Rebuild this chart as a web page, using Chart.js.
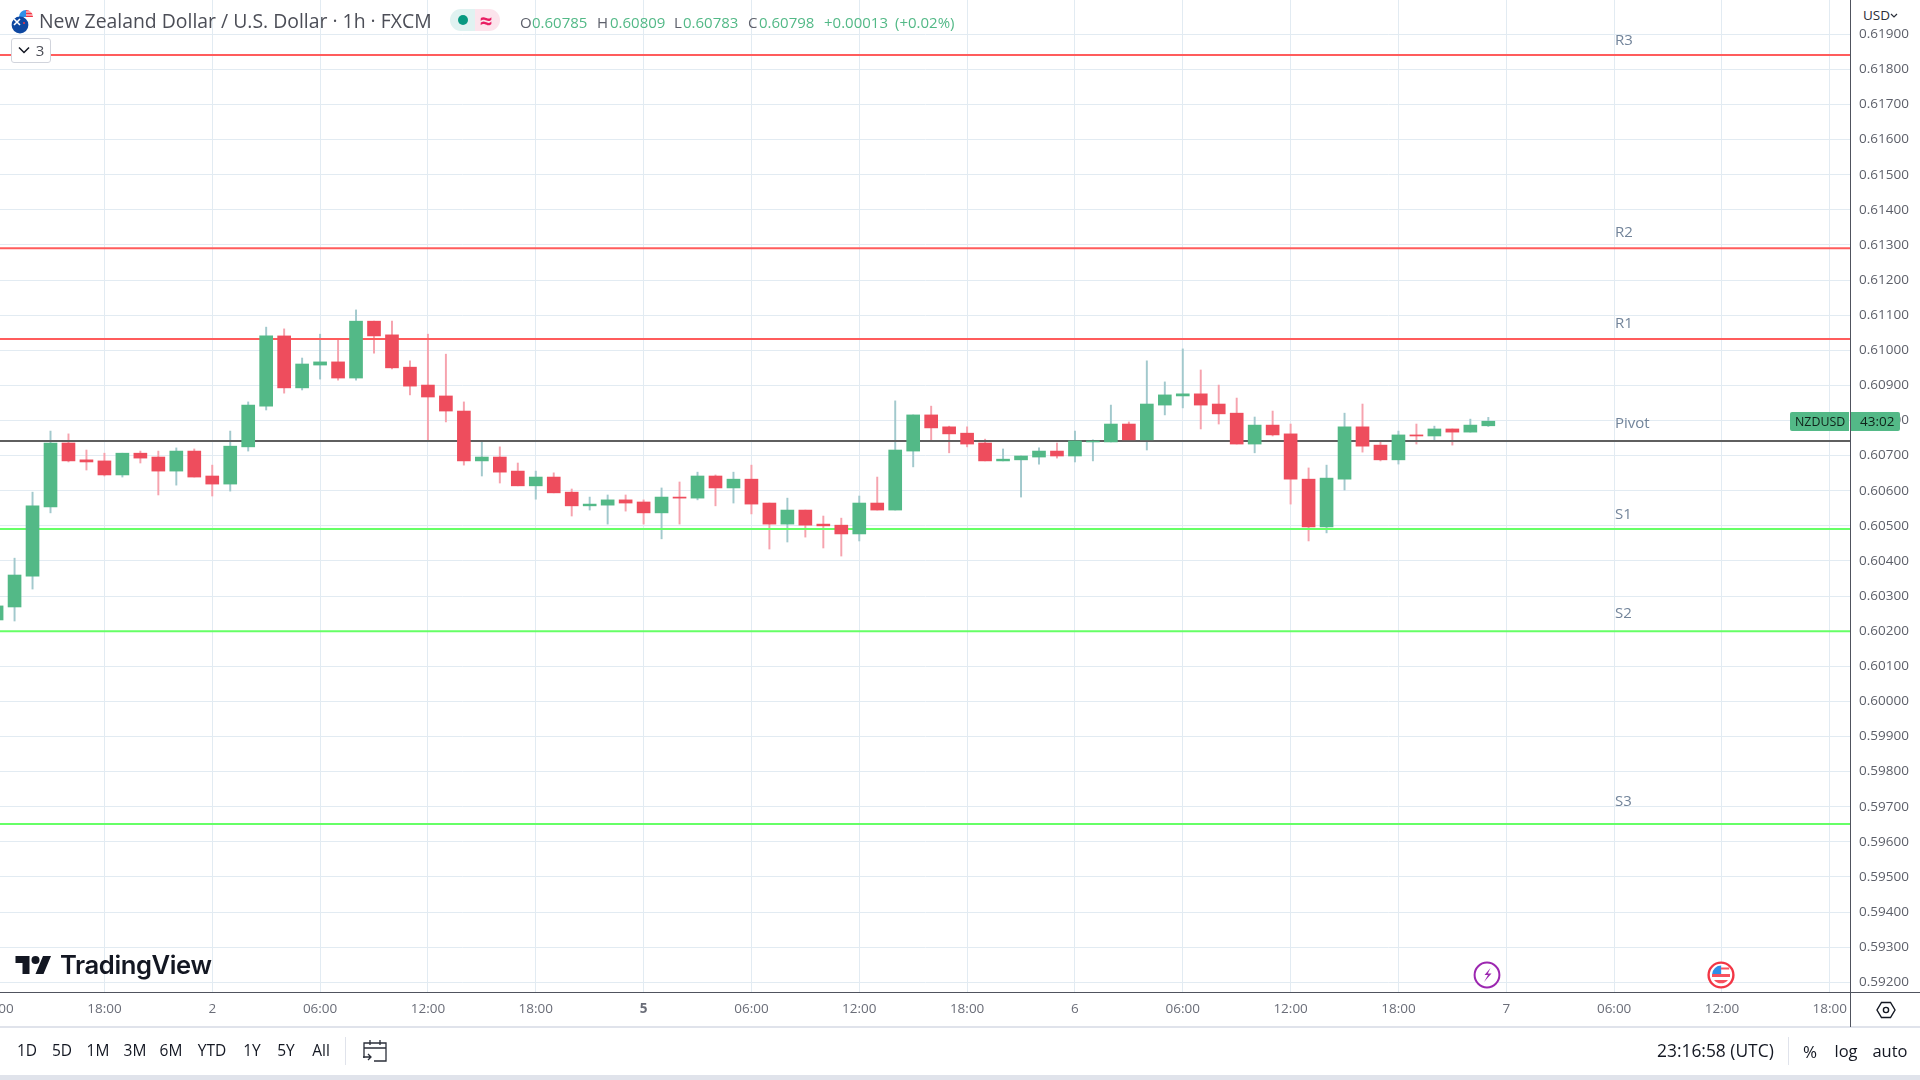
<!DOCTYPE html>
<html>
<head>
<meta charset="utf-8">
<title>NZDUSD 1h</title>
<script src="https://cdn.jsdelivr.net/npm/chart.js@4"></script>
<style>
html, body { margin: 0; padding: 0; background: #fff; width: 1920px; height: 1080px; overflow: hidden; }
body { position: relative; font-family: "Open Sans", sans-serif; }
canvas { position: absolute; left: 0; top: 0; }
.t { position: absolute; white-space: nowrap; line-height: 1; transform: translateY(-50%); }
.c { transform: translate(-50%, -50%); }
.lvl { left: 1615px; font-size: 15px; color: #72849a; }
.rng { top: 1051px; font-size: 15.5px; color: #131722; }
.box { position: absolute; }
.lab { top: 22px; font-size: 15px; color: #5d606b; }
.val { top: 22px; font-size: 15px; color: #53b987; }
svg { position: absolute; }
</style>
</head>
<body>
<canvas id="chart" width="1920" height="1080"></canvas>

<!-- cabecalho -->
<svg style="left:11px;top:8px" width="24" height="26" viewBox="0 0 24 26">
  <circle cx="15" cy="9" r="7" fill="#fff"/>
  <path d="M15 2a7 7 0 0 1 7 7h-7z" fill="#f23645"/>
  <path d="M8 9a7 7 0 0 1 7-7v7z" fill="#2f8fe8"/>
  <path d="M15 4h7M15 7h7" stroke="#fff" stroke-width="1.2"/>
  <circle cx="9" cy="17" r="8.4" fill="#0d47a1"/>
  <path d="M3 11l6 6M9 11l-6 6" stroke="#fff" stroke-width="1.6"/>
  <circle cx="13" cy="15" r="1" fill="#f23645"/>
</svg>
<div class="t" style="left:39px;top:21px;font-size:19.4px;color:#4c4e57">New Zealand Dollar / U.S. Dollar · 1h · FXCM</div>
<div class="box" style="left:450px;top:9px;width:25px;height:22px;background:#e0f2f1;border-radius:11px 0 0 11px"></div>
<div class="box" style="left:475px;top:9px;width:25px;height:22px;background:#fce4ec;border-radius:0 11px 11px 0"></div>
<div class="box" style="left:458px;top:15px;width:10px;height:10px;background:#089981;border-radius:50%"></div>
<div class="t c" style="left:486px;top:20px;font-size:22px;font-weight:700;color:#e91e63">≈</div>
<div class="t lab" style="left:520px">O</div><div class="t val" style="left:532px">0.60785</div>
<div class="t lab" style="left:597px">H</div><div class="t val" style="left:610px">0.60809</div>
<div class="t lab" style="left:674px">L</div><div class="t val" style="left:683px">0.60783</div>
<div class="t lab" style="left:748px">C</div><div class="t val" style="left:759px">0.60798</div>
<div class="t val" style="left:824px">+0.00013</div><div class="t val" style="left:895px">(+0.02%)</div>

<div class="box" style="left:11px;top:38px;width:38px;height:23px;background:#fff;border:1px solid #d1d4dc;border-radius:3px"></div>
<svg style="left:18px;top:46px" width="12" height="8" viewBox="0 0 12 8"><path d="M1 1.5l5 5 5-5" fill="none" stroke="#131722" stroke-width="1.5"/></svg>
<div class="t c" style="left:40px;top:50px;font-size:15px;color:#4c4e57">3</div>

<!-- niveis -->
<div class="t lvl" style="top:39px">R3</div>
<div class="t lvl" style="top:231px">R2</div>
<div class="t lvl" style="top:322px">R1</div>
<div class="t lvl" style="top:422px">Pivot</div>
<div class="t lvl" style="top:513px">S1</div>
<div class="t lvl" style="top:612px">S2</div>
<div class="t lvl" style="top:800px">S3</div>

<!-- eixo de precos -->
<div class="box" style="left:1852px;top:0;width:68px;height:29px;background:#fff"></div>
<div class="t" style="left:1863px;top:16px;font-size:13.5px;color:#2a2e39">USD</div>
<svg style="left:1890px;top:13px" width="8" height="6" viewBox="0 0 8 6"><path d="M1 1l3 3 3-3" fill="none" stroke="#2a2e39" stroke-width="1.2"/></svg>
<div class="box" style="left:1850px;top:0;width:1px;height:1026px;background:#50535e"></div>
<div class="box" style="left:1851px;top:992px;width:69px;height:1px;background:#50535e"></div>
<div class="box" style="left:1790px;top:412px;width:59px;height:19px;background:#53b987;border-radius:2px 0 0 2px"></div>
<div class="box" style="left:1851px;top:412px;width:49px;height:19px;background:#53b987;border-radius:0 2px 2px 0"></div>
<div class="t" style="left:1795px;top:422px;font-size:12.4px;color:#10231a">NZDUSD</div>
<div class="t" style="left:1860px;top:422px;font-size:13.5px;color:#10231a">43:02</div>

<!-- logo e marcadores -->
<svg style="left:15px;top:956px" width="37" height="18" viewBox="0 4 36 18"><path d="M14 22H7V11H0V4h14v18zM28 22h-8l7.5-18h8L28 22z" fill="#131722"/><circle cx="20" cy="8" r="4" fill="#131722"/></svg>
<div class="t" style="left:60px;top:965px;font-family:Inter,sans-serif;font-size:25.6px;font-weight:600;letter-spacing:-0.4px;color:#131722">TradingView</div>

<svg style="left:1473px;top:961px" width="28" height="28" viewBox="0 0 28 28">
  <circle cx="14" cy="14" r="12.4" fill="#fff" stroke="#9c27b0" stroke-width="2"/>
  <path d="M17.5 7l-6 7h3.5l-4 7 7.5-8.5h-3.7z" fill="#9c27b0"/>
</svg>
<svg style="left:1707px;top:961px" width="28" height="28" viewBox="0 0 28 28">
  <circle cx="14" cy="14" r="12.4" fill="#fff" stroke="#f23645" stroke-width="2.4"/>
  <path d="M5 13h18v3H5zM7 19h14a9 9 0 0 1-14 0z" fill="#f7525f"/>
  <path d="M5.2 13a9 9 0 0 1 9-8.6V13z" fill="#2f8fe8"/>
  <path d="M14 7.5h8.2" stroke="#f7525f" stroke-width="2"/>
</svg>

<!-- barra inferior -->
<div class="box" style="left:0;top:1026px;width:1920px;height:2px;background:#e0e3eb"></div>
<div class="box" style="left:1850px;top:1026px;width:1px;height:1px;background:#50535e"></div>
<div class="box" style="left:0;top:1075px;width:1920px;height:5px;background:#e0e3eb"></div>
<div class="box" style="left:345px;top:1037px;width:1px;height:28px;background:#e0e3eb"></div>
<div class="box" style="left:1788px;top:1037px;width:1px;height:28px;background:#e0e3eb"></div>
<div class="t c rng" style="left:27px">1D</div>
<div class="t c rng" style="left:62px">5D</div>
<div class="t c rng" style="left:98px">1M</div>
<div class="t c rng" style="left:135px">3M</div>
<div class="t c rng" style="left:171px">6M</div>
<div class="t c rng" style="left:212px">YTD</div>
<div class="t c rng" style="left:252px">1Y</div>
<div class="t c rng" style="left:286px">5Y</div>
<div class="t c rng" style="left:321px">All</div>
<svg style="left:362px;top:1038px" width="26" height="26" viewBox="0 0 26 26"><path d="M2 20V5h22v18H12M2 10h22M8 2v5M18 2v5M1 19h8M6 16l3 3-3 3" fill="none" stroke="#2a2e39" stroke-width="1.3"/></svg>
<div class="t" style="left:1657px;top:1051px;font-size:17.4px;color:#131722">23:16:58 (UTC)</div>
<div class="t c rng" style="left:1810px;font-size:17px">%</div>
<div class="t c rng" style="left:1846px;font-size:16.5px">log</div>
<div class="t c rng" style="left:1890px;font-size:16.5px">auto</div>
<svg style="left:1876px;top:1000px" width="20" height="20" viewBox="0 0 20 20"><path d="M5.5 2.5h9L19 10l-4.5 7.5h-9L1 10z" fill="none" stroke="#131722" stroke-width="1.4"/><circle cx="10" cy="10" r="2.6" fill="none" stroke="#131722" stroke-width="1.4"/></svg>

<script>
// Velas de 1h do NZDUSD
const opens = [0.60232, 0.60269, 0.60357, 0.60554, 0.60736, 0.60688, 0.60685, 0.60645, 0.60707, 0.60696, 0.60656, 0.60713,
    0.60642, 0.60619, 0.60725, 0.60841, 0.61041, 0.60893, 0.60958, 0.60967, 0.60921, 0.61083, 0.61044, 0.60952,
    0.60901, 0.60870, 0.60827, 0.60685, 0.60696, 0.60656, 0.60614, 0.60639, 0.60596, 0.60557, 0.60559, 0.60574,
    0.60568, 0.60537, 0.60582, 0.60579, 0.60642, 0.60608, 0.60633, 0.60565, 0.60505, 0.60545, 0.60505, 0.60502,
    0.60477, 0.60565, 0.60545, 0.60713, 0.60816, 0.60782, 0.60764, 0.60736, 0.60685, 0.60688, 0.60696, 0.60713,
    0.60699, 0.60739, 0.60739, 0.60790, 0.60745, 0.60844, 0.60870, 0.60876, 0.60847, 0.60821, 0.60733, 0.60787,
    0.60762, 0.60633, 0.60497, 0.60633, 0.60782, 0.60730, 0.60688, 0.60759, 0.60756, 0.60776, 0.60767, 0.60785];
const closes = [0.60272, 0.60360, 0.60557, 0.60736, 0.60685, 0.60682, 0.60645, 0.60707, 0.60693, 0.60656, 0.60713, 0.60639,
    0.60619, 0.60727, 0.60844, 0.61041, 0.60893, 0.60961, 0.60967, 0.60921, 0.61083, 0.61041, 0.60950, 0.60898,
    0.60867, 0.60827, 0.60685, 0.60696, 0.60653, 0.60614, 0.60639, 0.60594, 0.60557, 0.60562, 0.60574, 0.60565,
    0.60537, 0.60582, 0.60579, 0.60642, 0.60608, 0.60633, 0.60562, 0.60505, 0.60545, 0.60502, 0.60500, 0.60477,
    0.60565, 0.60545, 0.60716, 0.60816, 0.60779, 0.60762, 0.60733, 0.60685, 0.60690, 0.60699, 0.60713, 0.60699,
    0.60742, 0.60742, 0.60790, 0.60745, 0.60847, 0.60873, 0.60876, 0.60844, 0.60819, 0.60733, 0.60787, 0.60759,
    0.60633, 0.60497, 0.60636, 0.60782, 0.60727, 0.60688, 0.60759, 0.60756, 0.60776, 0.60767, 0.60787, 0.60798];
const highs = [0.60272, 0.60408, 0.60596, 0.60770, 0.60762, 0.60716, 0.60707, 0.60707, 0.60713, 0.60713, 0.60722, 0.60719,
    0.60673, 0.60770, 0.60853, 0.61066, 0.61061, 0.60978, 0.61046, 0.61029, 0.61115, 0.61083, 0.61083, 0.60970,
    0.61046, 0.60989, 0.60853, 0.60739, 0.60725, 0.60679, 0.60656, 0.60651, 0.60605, 0.60582, 0.60588, 0.60588,
    0.60574, 0.60608, 0.60625, 0.60653, 0.60645, 0.60653, 0.60673, 0.60565, 0.60579, 0.60545, 0.60528, 0.60522,
    0.60585, 0.60639, 0.60856, 0.60816, 0.60841, 0.60784, 0.60782, 0.60747, 0.60719, 0.60699, 0.60722, 0.60736,
    0.60770, 0.60745, 0.60844, 0.60796, 0.60970, 0.60910, 0.61004, 0.60944, 0.60901, 0.60864, 0.60810, 0.60827,
    0.60790, 0.60665, 0.60673, 0.60821, 0.60847, 0.60739, 0.60770, 0.60790, 0.60784, 0.60776, 0.60804, 0.60809];
const lows = [0.60232, 0.60229, 0.60320, 0.60537, 0.60682, 0.60659, 0.60642, 0.60639, 0.60679, 0.60588, 0.60616, 0.60639,
    0.60585, 0.60599, 0.60713, 0.60830, 0.60878, 0.60887, 0.60918, 0.60915, 0.60915, 0.60992, 0.60947, 0.60873,
    0.60745, 0.60796, 0.60673, 0.60642, 0.60622, 0.60614, 0.60576, 0.60594, 0.60528, 0.60545, 0.60505, 0.60542,
    0.60505, 0.60463, 0.60505, 0.60574, 0.60557, 0.60565, 0.60534, 0.60434, 0.60454, 0.60468, 0.60437, 0.60414,
    0.60457, 0.60545, 0.60545, 0.60668, 0.60745, 0.60708, 0.60725, 0.60685, 0.60685, 0.60582, 0.60676, 0.60693,
    0.60682, 0.60685, 0.60739, 0.60742, 0.60716, 0.60816, 0.60836, 0.60776, 0.60790, 0.60733, 0.60708, 0.60756,
    0.60562, 0.60457, 0.60480, 0.60602, 0.60710, 0.60685, 0.60676, 0.60733, 0.60742, 0.60730, 0.60767, 0.60783];

const resistances = [0.61841, 0.61291, 0.61032];
const pivot = 0.60742;
const supports = [0.60491, 0.60200, 0.59651];

const priceTicks = [0.592, 0.593, 0.594, 0.595, 0.596, 0.597, 0.598, 0.599, 0.600, 0.601, 0.602, 0.603, 0.604, 0.605,
    0.606, 0.607, 0.608, 0.609, 0.610, 0.611, 0.612, 0.613, 0.614, 0.615, 0.616, 0.617, 0.618, 0.619];
const timeTicks = [0, 6, 12, 18, 24, 30, 36, 42, 48, 54, 60, 66, 72, 78, 84, 90, 96, 102];
const timeLabels = ['12:00', '18:00', '2', '06:00', '12:00', '18:00', '5', '06:00', '12:00', '18:00', '6', '06:00',
    '12:00', '18:00', '7', '06:00', '12:00', '18:00'];

const GREEN = '#53b987';
const RED = '#ee4d5d';
const GREEN_WICK = '#a2c9cd';
const RED_WICK = '#f6a3ae';
const GRID = '#e2ebf2';
const AXIS = '#50535e';
const FONT = '"Open Sans", sans-serif';

const X_MIN = 0.19;
const X_MAX = 103.18;
const Y_MIN = 0.591724;
const Y_MAX = 0.619977;

const isUp = i => closes[i] >= opens[i];

function levelLine(value, color, order) {
    return {
        type: 'line',
        data: [{ x: X_MIN, y: value }, { x: X_MAX, y: value }],
        borderColor: color,
        borderWidth: 2,
        pointRadius: 0,
        order: order
    };
}

// sem margem automatica: o primeiro rotulo de hora fica cortado na borda, como no original
function noMargins(scale) {
    scale.paddingLeft = 0;
    scale.paddingRight = 0;
    scale.paddingTop = 0;
    scale.paddingBottom = 0;
}

new Chart(document.getElementById('chart'), {
    type: 'bar',
    data: {
        datasets: [
            {
                data: opens.map((o, i) => ({ x: i, y: [o, closes[i]] })),
                backgroundColor: opens.map((o, i) => isUp(i) ? GREEN : RED),
                barThickness: 13,
                grouped: false,
                borderWidth: 0,
                order: 0
            },
            ...resistances.map(v => levelLine(v, '#ff5c5c', 1)),
            levelLine(pivot, '#5f5f5f', 1),
            ...supports.map(v => levelLine(v, '#66ff66', 1)),
            {
                data: lows.map((l, i) => ({ x: i, y: [l, highs[i]] })),
                backgroundColor: lows.map((l, i) => isUp(i) ? GREEN_WICK : RED_WICK),
                barThickness: 1.3,
                grouped: false,
                borderWidth: 0,
                order: 2
            }
        ]
    },
    options: {
        responsive: false,
        animation: false,
        devicePixelRatio: 1,
        layout: { autoPadding: false, padding: { left: 0, top: 0, right: 0, bottom: 54 } },
        plugins: { legend: { display: false }, tooltip: { enabled: false } },
        scales: {
            x: {
                type: 'linear',
                offset: false,
                min: X_MIN,
                max: X_MAX,
                grid: { color: GRID, offset: false, drawTicks: false },
                border: { color: AXIS, width: 1 },
                afterBuildTicks: scale => { scale.ticks = timeTicks.map(value => ({ value })); },
                afterFit: scale => { scale.height = 34; noMargins(scale); },
                ticks: {
                    autoSkip: false,
                    maxRotation: 0,
                    padding: 9,
                    color: '#6a6d78',
                    font: ctx => ({ family: FONT, size: 13.5, weight: timeLabels[ctx.index] === '5' ? 'bold' : 'normal' }),
                    callback: (value, i) => timeLabels[i]
                }
            },
            y: {
                position: 'right',
                min: Y_MIN,
                max: Y_MAX,
                beginAtZero: false,
                grid: { color: GRID, drawTicks: false },
                border: { display: false },
                afterBuildTicks: scale => { scale.ticks = priceTicks.map(value => ({ value })); },
                afterFit: scale => { scale.width = 69; noMargins(scale); },
                ticks: {
                    autoSkip: false,
                    padding: 8,
                    color: '#5c5f69',
                    font: { family: FONT, size: 13.5 },
                    callback: value => value.toFixed(5)
                }
            }
        }
    }
});
</script>
</body>
</html>
